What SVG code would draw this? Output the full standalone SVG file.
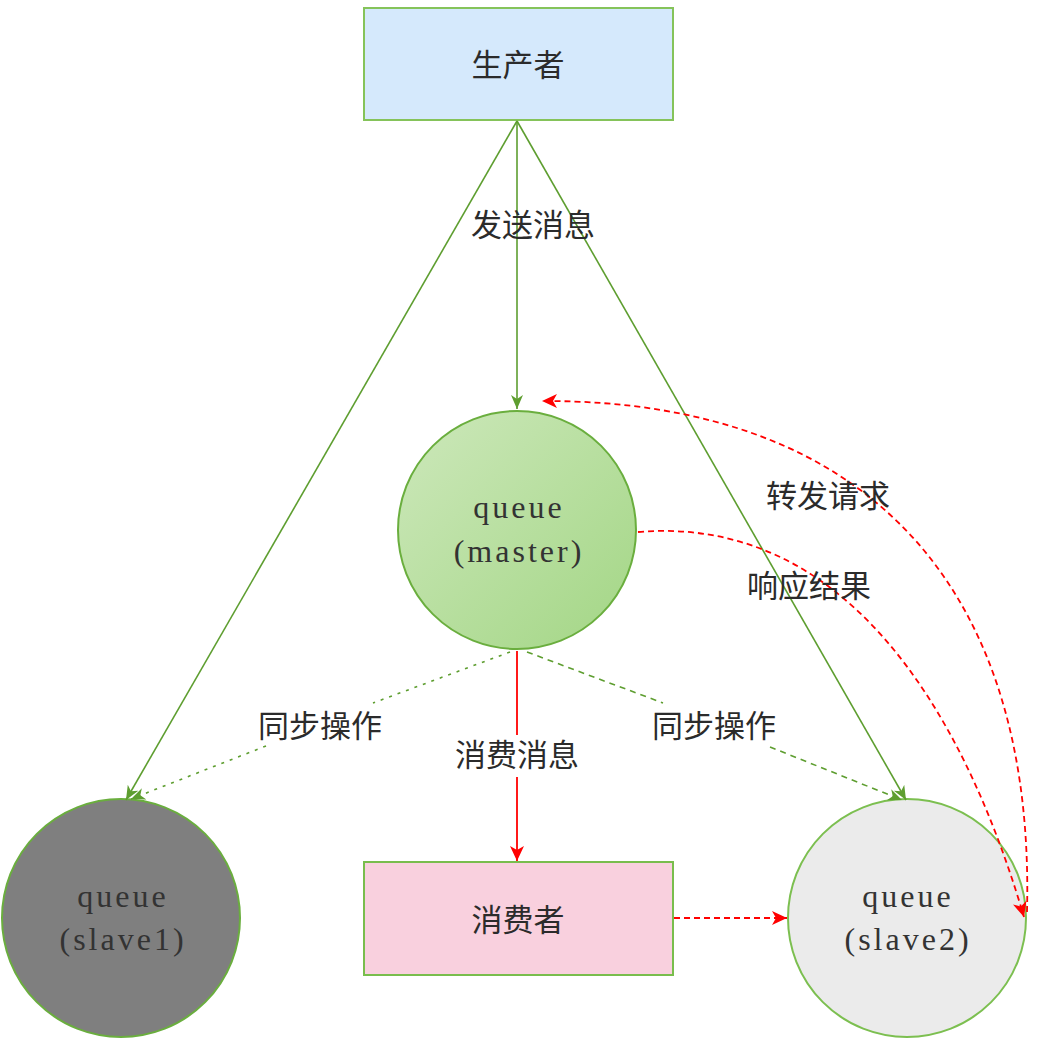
<svg xmlns="http://www.w3.org/2000/svg" width="1042" height="1040" viewBox="0 0 1042 1040">
<style>
.zh{font-family:"Noto Sans CJK SC","Liberation Sans",sans-serif;font-size:31px;fill:#2b2b2b;text-anchor:middle}
.en{font-family:"Liberation Serif","DejaVu Serif",serif;font-size:32px;fill:#333;text-anchor:middle;letter-spacing:3px}
.node{stroke-width:2}
.g{stroke:#5e9e30;stroke-width:1.6;fill:none}
.r{stroke:#ff0000;stroke-width:1.8;fill:none}
.dash{stroke-dasharray:6 5}
.dot{stroke-dasharray:3 6}
.rdash{stroke-dasharray:6 4}
</style>
<defs>
<linearGradient id="mg" x1="0" y1="0" x2="1" y2="1">
<stop offset="0" stop-color="#cde8bb"/>
<stop offset="1" stop-color="#a3d685"/>
</linearGradient>
<marker id="ag" markerUnits="userSpaceOnUse" markerWidth="16" markerHeight="14" refX="14" refY="6" orient="auto">
<path d="M0,0 L14,6 L0,12 L4,6 Z" fill="#5e9e30"/>
</marker>
<marker id="ar" markerUnits="userSpaceOnUse" markerWidth="18" markerHeight="16" refX="15" refY="7" orient="auto">
<path d="M0,0 L15,7 L0,14 L4,7 Z" fill="#ff0000"/>
</marker>
</defs>
<rect width="1042" height="1040" fill="#ffffff"/>
<g id="producer">
<rect class="node" x="364" y="8" width="309" height="112" fill="#d5e9fc" stroke="#85c35a"/>
<text class="zh" x="518" y="76">生产者</text>
</g>
<g id="master">
<circle class="node" cx="517" cy="530" r="119" fill="url(#mg)" stroke="#6aae3e"/>
<text class="en" x="519" y="518">queue</text>
<text class="en" x="519" y="562">(master)</text>
</g>
<g id="slave1">
<circle class="node" cx="121" cy="918" r="119" fill="#7f7f7f" stroke="#6aae3e"/>
<text class="en" x="123" y="907">queue</text>
<text class="en" x="123" y="950">(slave1)</text>
</g>
<g id="consumer">
<rect class="node" x="364" y="862" width="309" height="113" fill="#f9d0de" stroke="#79bd4d"/>
<text class="zh" x="518" y="931">消费者</text>
</g>
<g id="slave2">
<circle class="node" cx="907" cy="918" r="119" fill="#ebebeb" stroke="#7cbf50"/>
<text class="en" x="908" y="907">queue</text>
<text class="en" x="908" y="950">(slave2)</text>
</g>
<g id="connectors">
<line class="g" x1="517" y1="121" x2="517" y2="409" marker-end="url(#ag)"/>
<line class="g" x1="517" y1="121" x2="126" y2="800" marker-end="url(#ag)"/>
<line class="g" x1="517" y1="121" x2="906" y2="800" marker-end="url(#ag)"/>
<line class="g dot" x1="510" y1="652" x2="373" y2="703"/>
<line class="g dot" x1="266" y1="746" x2="131" y2="799" marker-end="url(#ag)"/>
<line class="g dash" x1="527" y1="652" x2="663" y2="703"/>
<line class="g dash" x1="770" y1="747" x2="902" y2="800" marker-end="url(#ag)"/>
<line class="r" x1="517" y1="651" x2="517" y2="735"/>
<line class="r" x1="517" y1="777" x2="517" y2="861" marker-end="url(#ar)"/>
<line class="r rdash" x1="674" y1="918" x2="787" y2="918" marker-end="url(#ar)"/>
<path class="r rdash" d="M1027,912 C1035,600 880,400 542,401" marker-end="url(#ar)"/>
<path class="r rdash" d="M638,532 C840,515 960,700 1024,917" marker-end="url(#ar)"/>
<text class="zh" x="533" y="236">发送消息</text>
<text class="zh" x="517" y="766">消费消息</text>
<text class="zh" x="320" y="737">同步操作</text>
<text class="zh" x="714" y="737">同步操作</text>
<text class="zh" x="828" y="507">转发请求</text>
<text class="zh" x="809" y="597">响应结果</text>
</g>
</svg>
